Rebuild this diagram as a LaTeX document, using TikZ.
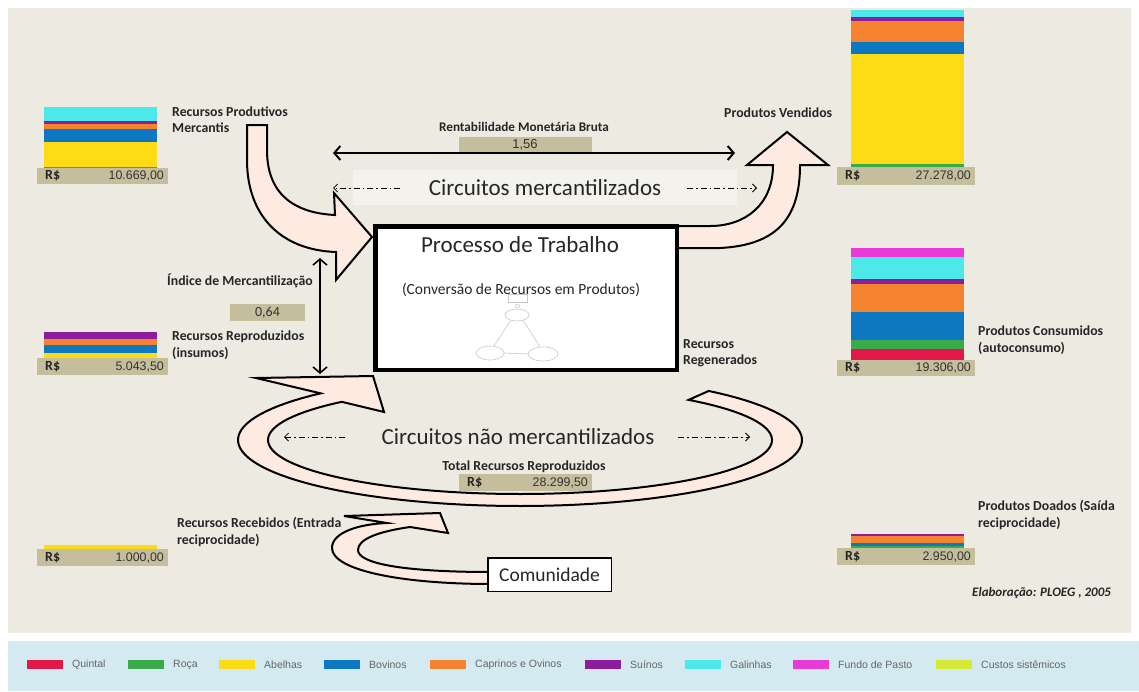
\documentclass[tikz,border=0pt]{standalone}
\usepackage{fontspec}
\setmainfont{Carlito}
\newfontfamily\ari{Liberation Sans}
\usetikzlibrary{arrows.meta}
\definecolor{bg}{HTML}{ECEAE1}
\definecolor{tanc}{HTML}{C5BE9C}
\definecolor{peach}{HTML}{FDEBE1}
\definecolor{cQuintal}{HTML}{E2184B}
\definecolor{cRoca}{HTML}{3BAA4A}
\definecolor{cAbelhas}{HTML}{FDDC16}
\definecolor{cBovinos}{HTML}{0B78C1}
\definecolor{cCaprinos}{HTML}{F5822F}
\definecolor{cSuinos}{HTML}{8C1E9E}
\definecolor{cGalinhas}{HTML}{4DE8EA}
\definecolor{cFundo}{HTML}{E93AD8}
\definecolor{cCustos}{HTML}{D6E936}
\definecolor{legbg}{HTML}{D3EBF0}
\definecolor{bandc}{HTML}{F3F2EC}
\newcommand{\valbar}[6]{%
  \fill[tanc] (#1,#2) rectangle (#3,#4);
  \node[rstxt] (#6rs) at ({#1+8},{(#2+#4)/2}) {R\$};
  \node[valtxt, anchor=east] (#6v) at ({#3-4},{(#2+#4)/2}) {#5};
}
\newcommand{\legitem}[4]{%
  \fill[#2] (#1,660) rectangle ({#1+36},669);
  \node[legtxt] (#4) at ({#1+45},665) {#3};
}
\begin{document}
\begin{tikzpicture}[x=1pt,y=-1pt,
  lbl/.style={font=\fontsize{13.8}{16.5}\selectfont\bfseries, align=left, inner sep=0pt, anchor=west, text=black!85},
  valtxt/.style={font=\ari\fontsize{12.4}{14}\selectfont, inner sep=0pt, text=black!80},
  rstxt/.style={font=\fontsize{14}{16}\selectfont\bfseries, inner sep=0pt, anchor=west, text=black!85},
  blockarrow/.style={fill=peach, draw=black, line width=2pt},
  dd/.style={line width=0.8pt, dash pattern=on 6pt off 3pt on 1.5pt off 3pt, -{Straight Barb[length=4pt,width=8pt]}},
  dbl/.style={line width=2pt, {Straight Barb[length=6pt,width=14pt]}-{Straight Barb[length=6pt,width=14pt]}},
  faint/.style={draw=black!22, line width=0.6pt},
  legtxt/.style={font=\ari\fontsize{10.5}{12}\selectfont, text=black!60, anchor=west, inner sep=0pt},
  big/.style={font=\fontsize{23}{25}\selectfont, inner sep=0pt, text=black!85},
]
\useasboundingbox (0,0) rectangle (1139,691);
\fill[white] (0,0) rectangle (1139,691);
\fill[bg] (8,8) rectangle (1131,633);
\fill[legbg] (8,641) rectangle (1139,691);

% ---------- stacks ----------
% top-left
\fill[cGalinhas] (44,107) rectangle (157,121);
\fill[cSuinos] (44,121) rectangle (157,124);
\fill[cCaprinos] (44,124) rectangle (157,129);
\fill[cBovinos] (44,129) rectangle (157,142);
\fill[cAbelhas] (44,142) rectangle (157,167);
\fill[cRoca] (44,167) rectangle (157,168);
\valbar{37}{168}{168}{184}{10.669,00}{tl}
% top-right
\fill[cGalinhas] (851,10) rectangle (964,17);
\fill[cSuinos] (851,17) rectangle (964,21);
\fill[cCaprinos] (851,21) rectangle (964,42);
\fill[cBovinos] (851,42) rectangle (964,54);
\fill[cAbelhas] (851,54) rectangle (964,164);
\fill[cRoca] (851,164) rectangle (964,167);
\valbar{837}{167}{975}{185}{27.278,00}{tr}
% middle-right
\fill[cFundo] (851,248) rectangle (964,257);
\fill[cGalinhas] (851,257) rectangle (964,279);
\fill[cSuinos] (851,279) rectangle (964,284);
\fill[cCaprinos] (851,284) rectangle (964,312);
\fill[cBovinos] (851,312) rectangle (964,340);
\fill[cRoca] (851,340) rectangle (964,349);
\fill[cQuintal] (851,349) rectangle (964,360);
\valbar{837}{360}{975}{376}{19.306,00}{mr}
% middle-left
\fill[cSuinos] (44,332) rectangle (157,339);
\fill[cCaprinos] (44,339) rectangle (157,345);
\fill[cBovinos] (44,345) rectangle (157,353);
\fill[cAbelhas] (44,353) rectangle (157,358);
\valbar{37}{358}{168}{375}{5.043,50}{ml}
% bottom-left
\fill[cAbelhas] (44,545) rectangle (157,549);
\valbar{37}{549}{168}{566}{1.000,00}{bl}
% bottom-right
\fill[cSuinos] (851,534) rectangle (964,536);
\fill[cCaprinos] (851,536) rectangle (964,543);
\fill[cBovinos] (851,543) rectangle (964,546);
\fill[cRoca] (851,546) rectangle (964,548);
\valbar{837}{548}{975}{565}{2.950,00}{br}

% ---------- labels ----------
\node[lbl] (rpm) at (172,119.5) {Recursos Produtivos\\Mercantis};
\node[lbl] (rri) at (172,345) {Recursos Reproduzidos\\(insumos)};
\node[lbl] (idx) at (167,281) {Índice de Mercantilização};
\node[lbl, anchor=center, font=\fontsize{13.2}{16}\selectfont\bfseries] (rmb) at (524,127) {Rentabilidade Monetária Bruta};
\node[lbl] (pv) at (724,113) {Produtos Vendidos};
\node[lbl] (rreg) at (683,353) {Recursos\\Regenerados};
\node[lbl] (pc) at (978,340) {Produtos Consumidos\\(autoconsumo)};
\node[lbl] (pd) at (978,515) {Produtos Doados (Saída\\reciprocidade)};
\node[lbl] (rrec) at (177,532) {Recursos Recebidos (Entrada\\reciprocidade)};
\node[lbl, font=\fontsize{13}{16}\selectfont\bfseries\itshape] (elab) at (972,593) {Elaboração: PLOEG , 2005};
\node[lbl, anchor=center] (trr) at (524,467) {Total Recursos Reproduzidos};

% ---------- index bars ----------
\fill[tanc] (459,137) rectangle (592,153);
\node[valtxt, font=\ari\fontsize{13}{14}\selectfont] (v156) at (525,145) {1,56};
\fill[tanc] (230,304) rectangle (305,321);
\node[valtxt, font=\fontsize{14}{16}\selectfont] (v064) at (267.5,312.5) {0,64};
\valbar{459}{474}{592}{491}{28.299,50}{tot}

% ---------- light band ----------
\fill[bandc] (353,170) rectangle (737,205);
\node[big] (cm) at (545,188) {Circuitos mercantilizados};
\coordinate (cmL1) at (400,188); \coordinate (cmL2) at (333,188);
\coordinate (cmR1) at (687,188); \coordinate (cmR2) at (757,188);
\draw[dd] (cmL1) -- (cmL2);
\draw[dd] (cmR1) -- (cmR2);

% ---------- double arrows ----------
\coordinate (rA) at (333,153); \coordinate (rB) at (735,153);
\draw[dbl] (rA) -- (rB);
\coordinate (iA) at (320,258); \coordinate (iB) at (320,374);
\draw[dbl, line width=1.6pt] (iA) -- (iB);

% ---------- block arrows ----------
% input arrow
\path[blockarrow] (247,125) -- (267,125) -- (267,150)
  .. controls (267,195) and (295,213) .. (335,215)
  -- (334,193) -- (372,237) -- (336,280) -- (336,252)
  .. controls (280,250) and (247,215) .. (247,160) -- cycle;
% output arrow
\path[blockarrow] (670,248) -- (720,248)
  .. controls (780,245) and (800,215) .. (800,165)
  -- (828,165) -- (787,132) -- (747,165) -- (773,165)
  .. controls (773,205) and (745,226) .. (710,226) -- (670,226) -- cycle;
% big loop
\path[blockarrow] plot[domain=48:-225, samples=100] ({520+282*cos(\x)},{440-66*sin(\x)})
  -- (256,378) -- (373,376) -- (384,412)
  -- plot[domain=-225:48, samples=100] ({520+252*cos(\x)},{440-54*sin(\x)}) -- cycle;
% small loop
\path[blockarrow] (492,584) .. controls (400,584) and (332,570) .. (332,548)
  .. controls (332,532) and (360,524) .. (387,523)
  -- (344,516) -- (440,513) -- (448,533) -- (410,527)
  .. controls (375,532) and (358,540) .. (358,550)
  .. controls (358,563) and (400,572) .. (492,572) -- cycle;

\node[big] (cnm) at (518,437) {Circuitos não mercantilizados};
\coordinate (cnL1) at (345,437); \coordinate (cnL2) at (284,437);
\coordinate (cnR1) at (678,437); \coordinate (cnR2) at (750,437);
\draw[dd] (cnL1) -- (cnL2);
\draw[dd] (cnR1) -- (cnR2);

% ---------- process box ----------
\node[draw, line width=4.5pt, fill=white, minimum width=301.5pt, minimum height=143.5pt, inner sep=0pt] (proc) at (526,298) {};
\node[big] (pt) at (520,245) {Processo de Trabalho};
\node[big, font=\fontsize{15.5}{17}\selectfont] (pconv) at (521,290) {(Conversão de Recursos em Produtos)};
\draw[faint] (508,294) rectangle (527,302);
\draw[faint] (517.5,306) circle[radius=2pt];
\draw[faint] (517,315) ellipse[x radius=12pt, y radius=6pt];
\draw[faint] (490,353) ellipse[x radius=14pt, y radius=7pt];
\draw[faint] (543,354) ellipse[x radius=15pt, y radius=7pt];
\draw[faint] (511,320) -- (494,346);
\draw[faint] (523,320) -- (540,347);
\draw[faint] (504,353) -- (528,354);

% ---------- comunidade ----------
\node[draw, line width=1.5pt, fill=white, minimum width=123.5pt, minimum height=33.5pt, inner sep=0pt, font=\fontsize{19.5}{21}\selectfont, text=black!85] (com) at (549.5,574.5) {Comunidade};

% ---------- legend ----------
\legitem{27}{cQuintal}{Quintal}{lq}
\legitem{128}{cRoca}{Roça}{lr}
\legitem{219}{cAbelhas}{Abelhas}{la}
\legitem{324}{cBovinos}{Bovinos}{lb}
\legitem{430}{cCaprinos}{Caprinos e Ovinos}{lc}
\legitem{585}{cSuinos}{Suínos}{ls}
\legitem{685}{cGalinhas}{Galinhas}{lg}
\legitem{793}{cFundo}{Fundo de Pasto}{lf}
\legitem{936}{cCustos}{Custos sistêmicos}{lcs}
\end{tikzpicture}
\end{document}
